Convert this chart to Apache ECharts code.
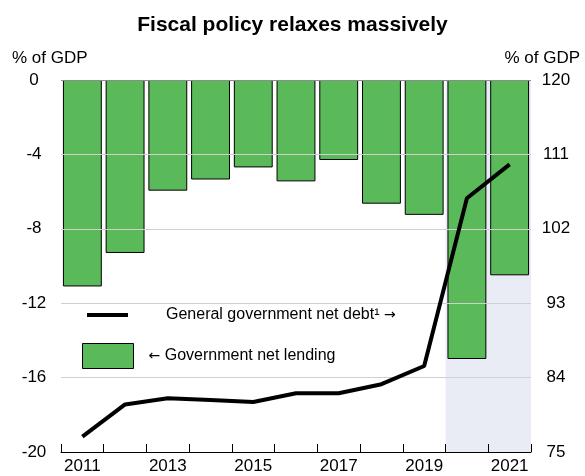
<!DOCTYPE html>
<html>
<head>
<meta charset="utf-8">
<script src="https://cdn.jsdelivr.net/npm/echarts@6/dist/echarts.min.js"></script>
<style>html,body{margin:0;padding:0;background:#fff}#c{width:585px;height:476px}</style>
</head>
<body>
<div id="c"></div>
<script>
const years = ['2011','2012','2013','2014','2015','2016','2017','2018','2019','2020','2021'];
const netLending = [-11.1, -9.3, -5.95, -5.35, -4.7, -5.45, -4.3, -6.65, -7.25, -15.0, -10.5];
const netDebt = [76.85, 80.75, 81.5, 81.3, 81.05, 82.1, 82.1, 83.2, 85.4, 105.7, 109.8];
const forecastYears = ['2020', '2021'];
const leftTicks = [-20, -16, -12, -8, -4, 0];
const rightTicks = [75, 84, 93, 102, 111, 120];
const lendingName = 'Government net lending';
const debtName = 'General government net debt¹';

const FONT = "'Liberation Sans', Arial, sans-serif";
const ARROWFONT = "'DejaVu Sans', sans-serif";
const fcStart = years.indexOf(forecastYears[0]);
const fcEnd = years.indexOf(forecastYears[forecastYears.length - 1]) + 1;

const chart = echarts.init(document.getElementById('c'), null, {renderer: 'canvas'});
chart.setOption({
  animation: false,
  backgroundColor: '#fff',
  textStyle: {fontFamily: FONT},
  title: [
    {text: 'Fiscal policy relaxes massively', left: 'center', top: 15, padding: 0,
     textStyle: {fontSize: 21, fontWeight: 'bold', color: '#000', fontFamily: FONT}},
    {text: '% of GDP', left: 12, top: 50, padding: 0,
     textStyle: {fontSize: 17, fontWeight: 'normal', color: '#000', fontFamily: FONT}},
    {text: '% of GDP', right: 5, top: 50, padding: 0,
     textStyle: {fontSize: 17, fontWeight: 'normal', color: '#000', fontFamily: FONT}}
  ],
  legend: [
    {data: [debtName], left: 87, top: 307, padding: 0, orient: 'vertical',
     icon: 'rect', itemWidth: 41, itemHeight: 4,
     formatter: n => n + '{a| →}',
     textStyle: {fontSize: 16, color: '#000', fontFamily: FONT, padding: [0, 0, 0, 33],
       rich: {a: {fontSize: 14, fontFamily: ARROWFONT, color: '#000'}}}},
    {data: [lendingName], left: 82, top: 343, padding: 0, orient: 'vertical',
     icon: 'rect', itemWidth: 51, itemHeight: 25,
     itemStyle: {borderWidth: 1, borderColor: '#000'},
     formatter: n => '{a|← }' + n,
     textStyle: {fontSize: 16, color: '#000', fontFamily: FONT, padding: [0, 0, 0, 10],
       rich: {a: {fontSize: 14, fontFamily: ARROWFONT, color: '#000'}}}}
  ],
  grid: {left: 61, right: 54, top: 80, bottom: 24, containLabel: false},
  xAxis: [
    {type: 'category', data: years, boundaryGap: true,
     axisLine: {onZero: false, lineStyle: {color: '#000', width: 1}},
     axisTick: {show: true, interval: 0, inside: true, length: 8, lineStyle: {color: '#000', width: 1}},
     axisLabel: {interval: 1, margin: 6, fontSize: 17, color: '#000', fontFamily: FONT},
     splitLine: {show: false}, z: 4},
    {type: 'value', min: 0, max: years.length, show: false}
  ],
  yAxis: [
    {type: 'value', min: leftTicks[0], max: leftTicks[leftTicks.length - 1],
     interval: leftTicks[1] - leftTicks[0],
     axisLine: {show: false}, axisTick: {show: false},
     axisLabel: {margin: 27, align: 'center', fontSize: 17, color: '#000', fontFamily: FONT},
     splitLine: {show: true, lineStyle: {color: ['#d0d0d0','#d0d0d0','#d0d0d0','#d0d0d0','#d0d0d0','#8c8c8c'], width: 1}},
     z: 3},
    {type: 'value', min: rightTicks[0], max: rightTicks[rightTicks.length - 1],
     interval: rightTicks[1] - rightTicks[0],
     axisLine: {show: false}, axisTick: {show: false},
     axisLabel: {margin: 25, align: 'center', fontSize: 17, color: '#000', fontFamily: FONT},
     splitLine: {show: false}}
  ],
  series: [
    {type: 'line', name: 'forecast', xAxisIndex: 1, yAxisIndex: 0, data: [], z: 0, silent: true,
     markArea: {silent: true, itemStyle: {color: '#e9ecf5'},
       data: [[{xAxis: fcStart}, {xAxis: fcEnd}]]}},
    {type: 'bar', name: lendingName, data: netLending, xAxisIndex: 0, yAxisIndex: 0,
     barCategoryGap: '9%', z: 2,
     itemStyle: {color: '#5aba5a', borderColor: '#000', borderWidth: 1}},
    {type: 'line', name: debtName, data: netDebt, xAxisIndex: 0, yAxisIndex: 1,
     symbol: 'none', z: 5,
     lineStyle: {color: '#000', width: 4}, itemStyle: {color: '#000'}}
  ]
});
</script>
</body>
</html>
